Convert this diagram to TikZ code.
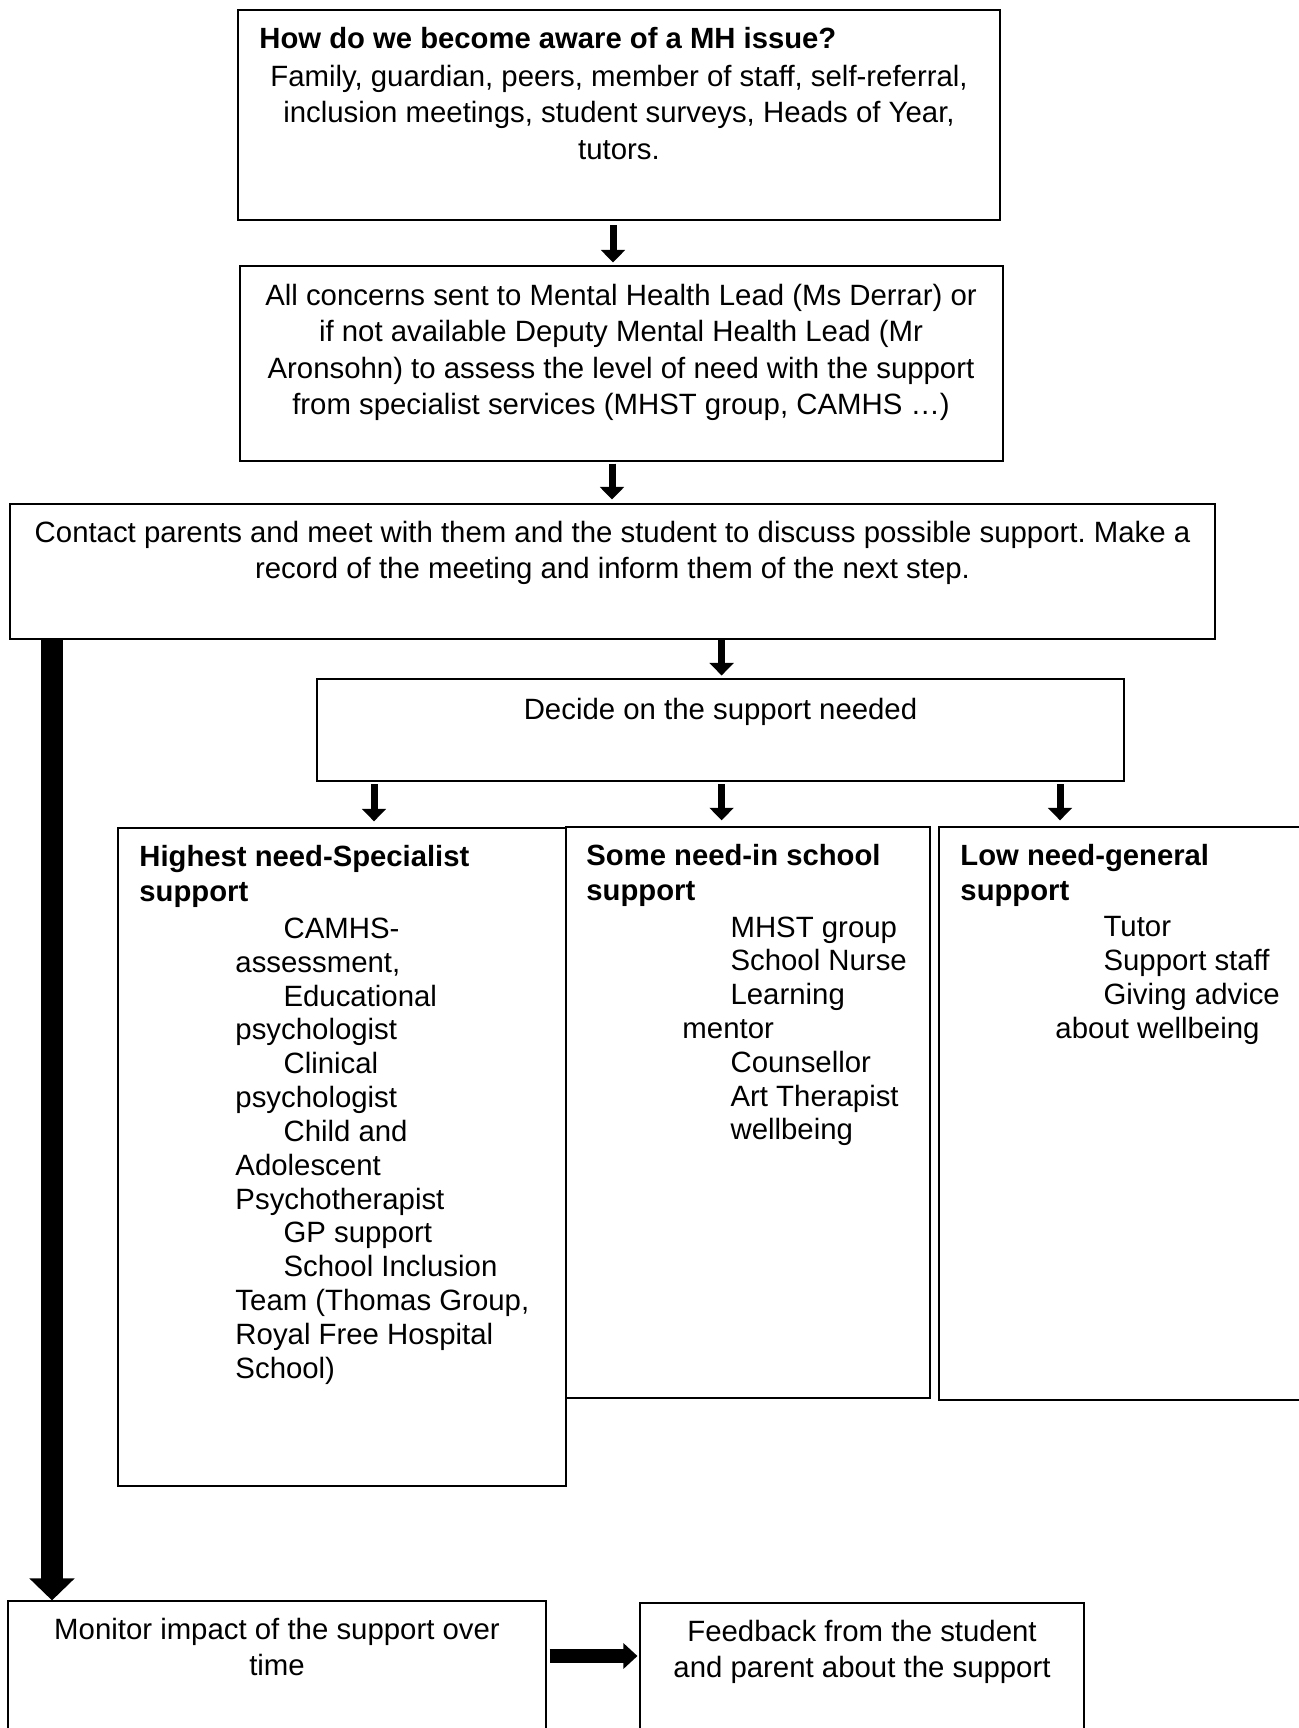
\documentclass[tikz,border=0pt]{standalone}
\usepackage{fontspec}
\setmainfont{Liberation Sans}
\usetikzlibrary{arrows.meta,fit}
\newcommand{\ind}{\hspace*{19.9pt}}
\frenchspacing

\begin{document}
\begin{tikzpicture}[x=0.4138pt, y=-0.4138pt,
    box/.style={draw, line width=0.5pt, inner sep=0pt},
    txt/.style={inner sep=0pt, align=center, font=\fontsize{12.15}{14.95}\selectfont},
    head/.style={inner sep=0pt, align=left, font=\fontsize{12.1}{14.7}\selectfont\bfseries},
    items/.style={inner sep=0pt, align=left, font=\fontsize{12.15}{14.0}\selectfont},
    arr/.style={line width=2.9pt, -{Triangle[width=9.8pt,length=5.2pt]}}]
  \useasboundingbox (0,0) rectangle (1299,1728);
  \clip (0,0) rectangle (1299,1728);

  % Boxes
  \node[box, fit={(238,10) (1000,220)}] (aware) {};
  \node[box, fit={(240,266) (1003,461)}] (assess) {};
  \node[box, fit={(10,504) (1215,639)}] (contact) {};
  \node[box, fit={(317,679) (1124,781)}] (decide) {};
  \node[box, fit={(118,828) (566,1486)}] (highest) {};
  \node[box, fit={(566,827) (930,1398)}] (some) {};
  \node[box, fit={(939,827) (1320,1400)}] (low) {};
  \node[box, fit={(8,1601) (546,1760)}] (monitor) {};
  \node[box, fit={(640,1603) (1084,1760)}] (feedback) {};

  % Texts
  \node[head, anchor=north west] (awarehead) at (259,27) {How do we become aware of a MH issue?};
  \node[txt, anchor=north] (awaretxt) at (619,65) {Family, guardian, peers, member of staff, self-referral,\\inclusion meetings, student surveys, Heads of Year,\\tutors.};
  \node[txt, anchor=north] (assesstxt) at (621,284) {All concerns sent to Mental Health Lead (Ms Derrar) or\\if not available Deputy Mental Health Lead (Mr\\Aronsohn) to assess the level of need with the support\\from specialist services (MHST group, CAMHS …)};
  \node[txt, anchor=north] (contacttxt) at (612.5,520.5) {Contact parents and meet with them and the student to discuss possible support. Make a\\record of the meeting and inform them of the next step.};
  \node[txt, anchor=north] (decidetxt) at (720.5,698) {Decide on the support needed};

  \node[head, anchor=north west] (highesthead) at (139,844.5) {Highest need-Specialist\\support};
  \node[items, anchor=north west] (highesttxt) at (235,917.5) {\ind CAMHS-\\assessment,\\\ind Educational\\psychologist\\\ind Clinical\\psychologist\\\ind Child and\\Adolescent\\Psychotherapist\\\ind GP support\\\ind School Inclusion\\Team (Thomas Group,\\Royal Free Hospital\\School)};

  \node[head, anchor=north west] (somehead) at (586,843.5) {Some need-in school\\support};
  \node[items, anchor=north west] (sometxt) at (682,916) {\ind MHST group\\\ind School Nurse\\\ind Learning\\mentor\\\ind Counsellor\\\ind Art Therapist\\\ind wellbeing};

  \node[head, anchor=north west] (lowhead) at (960,843.5) {Low need-general\\support};
  \node[items, anchor=north west] (lowtxt) at (1055,916) {\ind Tutor\\\ind Support staff\\\ind Giving advice\\about wellbeing};

  \node[txt, anchor=north] (monitortxt) at (277,1618) {Monitor impact of the support over\\time};
  \node[txt, anchor=north] (feedbacktxt) at (862,1620) {Feedback from the student\\and parent about the support};

  % Arrows
  \draw[arr, shorten <=2pt, shorten >=1.2pt] (aware.south -| 613,0) -- (assess.north -| 613,0);
  \draw[arr, shorten <=0.8pt, shorten >=1.6pt] (assess.south -| 612,0) -- (contact.north -| 612,0);
  \draw[arr, shorten >=1.2pt] (contact.south -| 721.6,0) -- (decide.north -| 721.6,0);
  \draw[arr, shorten <=1pt, shorten >=2.5pt] (decide.south -| 374,0) -- (highest.north -| 374,0);
  \draw[arr, shorten <=1pt, shorten >=2.5pt] (decide.south -| 721.6,0) -- (some.north -| 721.6,0);
  \draw[arr, shorten <=1pt, shorten >=2.5pt] (decide.south -| 1060,0) -- (low.north -| 1060,0);
  \draw[line width=9.1pt, -{Triangle[width=18.2pt,length=9.1pt]}] (contact.south -| 52,0) -- (monitor.north -| 52,0);
  \draw[line width=5.4pt, -{Triangle[width=10.3pt,length=5.8pt]}, shorten <=1.2pt, shorten >=0.8pt] (monitor.east |- 0,1656) -- (feedback.west |- 0,1656);
\end{tikzpicture}
\end{document}
